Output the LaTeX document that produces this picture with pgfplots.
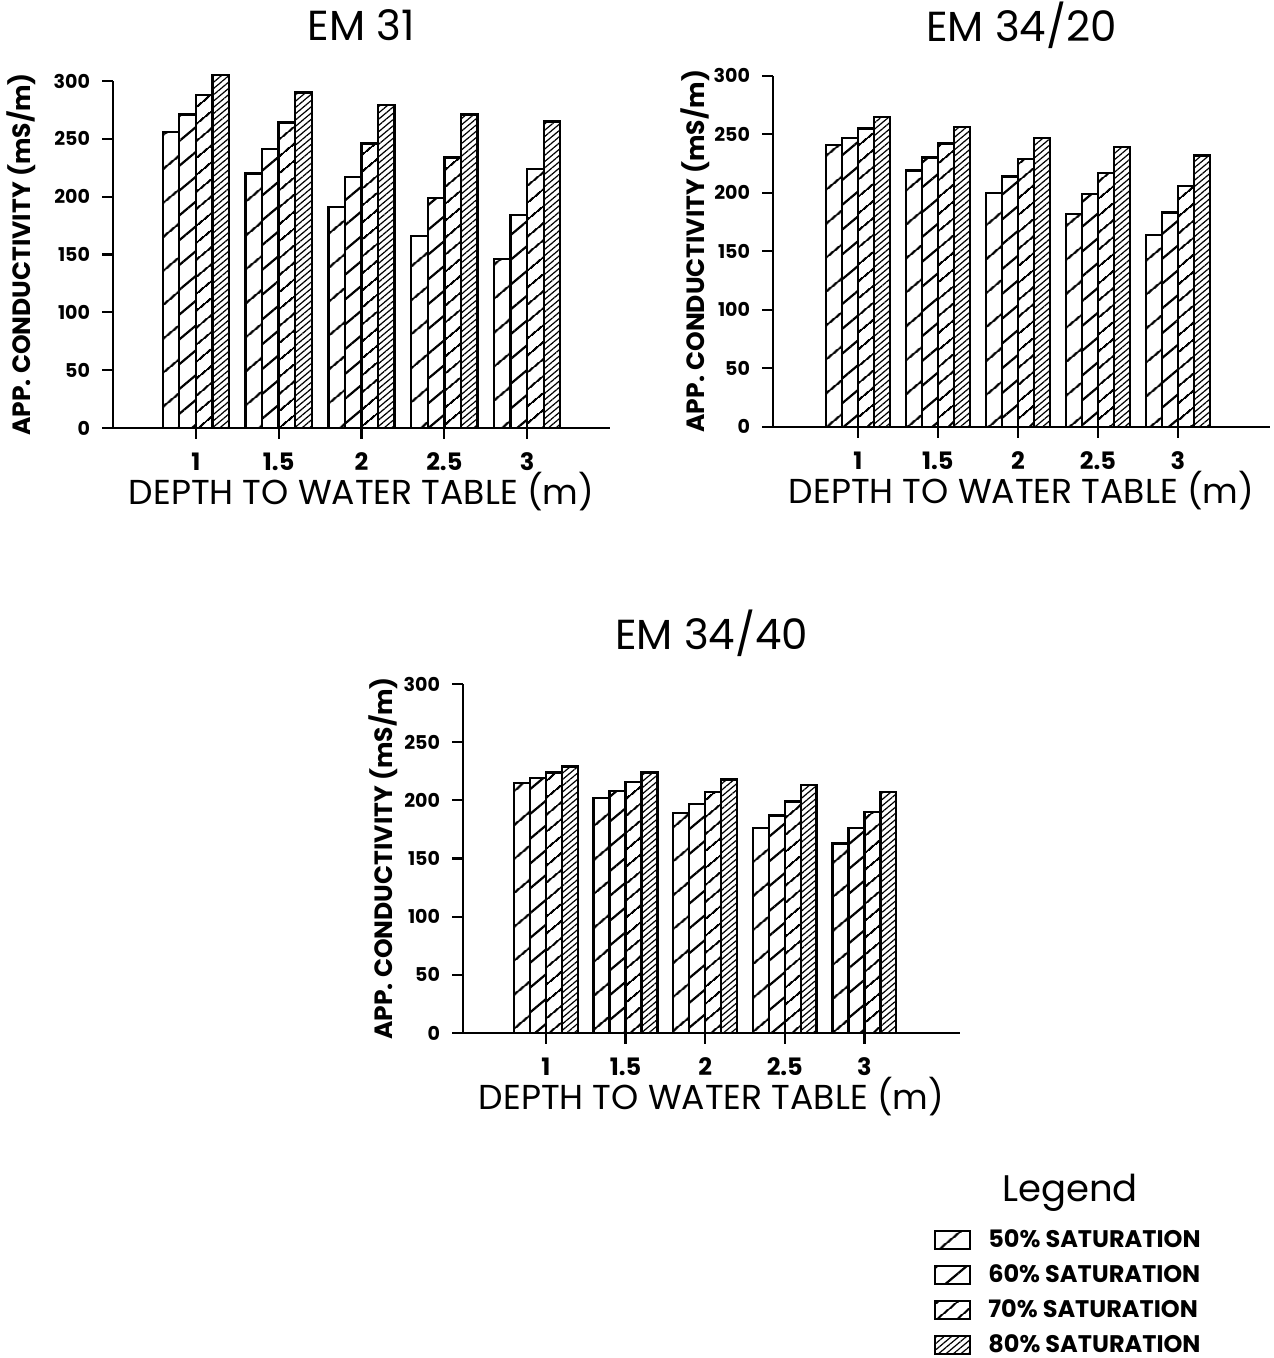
\documentclass[border=0pt]{standalone}
\usepackage{pgfplots}
\pgfplotsset{compat=1.18}
\usepackage{pgfplotstable}
\usetikzlibrary{patterns.meta}
\usepackage{fontspec}
\setmainfont{Poppins}

\pgfplotstableread{
x s50 s60 s70 s80
1 256 271 288 305
2 220 241 264 290
3 191 217 246 279
4 166 199 234 271
5 146 184 224 265
}\emA
\pgfplotstableread{
x s50 s60 s70 s80
1 241 247 255 265
2 219 230 242 256
3 200 214 229 247
4 182 199 217 239
5 164 183 206 232
}\emB
\pgfplotstableread{
x s50 s60 s70 s80
1 215 219 224 229
2 202 208 216 224
3 189 197 207 218
4 176 187 199 213
5 163 176 190 207
}\emC

\pgfplotsset{
  emaxis/.style={
    scale only axis, width=248.5pt,
    ymin=0, ymax=300, ytick={0,50,...,300},
    xtick={1,2,3,4,5}, xticklabels={1,1.5,2,2.5,3},
    axis x line*=bottom, axis y line*=left,
    axis line style={line width=1.1pt, black},
    tick align=outside, major tick length=5.5pt,
    tick style={line width=1.1pt, black},
    /pgf/number format/assume math mode=true,
    yticklabel style={font=\bfseries\fontsize{9.5}{12}\selectfont, xshift=-2.5pt},
    xticklabel style={font=\bfseries\fontsize{12}{14}\selectfont, yshift=-3.5pt},
    ylabel={APP. CONDUCTIVITY (mS/m)},
    xlabel={DEPTH TO WATER TABLE (m)},
    every axis x label/.style={at={(axis description cs:0.5,0)}, anchor=center, yshift=-32pt, font=\fontsize{17.3}{20}\selectfont},
    title style={font=\fontsize{21}{24}\selectfont, at={(0.5,1)}, anchor=center},
    ybar=0pt, bar width=0.2, clip=false,
    enlargelimits=false,
  },
  ylab/.style={every axis y label/.style={at={(axis description cs:#1,0.5)}, rotate=90, anchor=center, font=\bfseries\fontsize{12.5}{15}\selectfont}},
  sw/.style={legend image code/.code={\draw[##1,line width=1pt] (0pt,-4.5pt) rectangle (17.5pt,4.5pt); \path (24pt,0pt);}},
  p50/.style={draw=black, line width=1.2pt, sw, pattern={Lines[angle=40,distance=13pt,line width=1.1pt]}},
  p60/.style={draw=black, line width=1.2pt, sw, pattern={Lines[angle=40,distance=9.5pt,line width=1.1pt]}},
  p70/.style={draw=black, line width=1.2pt, sw, pattern={Lines[angle=40,distance=6.5pt,line width=1.1pt]}},
  p80/.style={draw=black, line width=1.2pt, sw, pattern={Lines[angle=40,distance=2.4pt,line width=0.6pt]}},
}

\begin{document}
\begin{tikzpicture}
\useasboundingbox (0,0) rectangle (636.5pt,679pt);

\begin{axis}[emaxis, at={(56.5pt,465pt)}, anchor=south west, height=173.5pt,
  xmin=0, xmax=6, title={EM 31}, title style={yshift=22pt}, ylab=-0.185]
\addplot[p50] table[x=x,y=s50]{\emA};
\addplot[p60] table[x=x,y=s60]{\emA};
\addplot[p70] table[x=x,y=s70]{\emA};
\addplot[p80] table[x=x,y=s80]{\emA};
\end{axis}

\begin{axis}[emaxis, at={(386.5pt,465.6pt)}, anchor=south west, height=175.5pt,
  xmin=-0.06, xmax=6.15, title={EM 34/20}, title style={yshift=19pt}, ylab=-0.157]
\addplot[p50] table[x=x,y=s50]{\emB};
\addplot[p60] table[x=x,y=s60]{\emB};
\addplot[p70] table[x=x,y=s70]{\emB};
\addplot[p80] table[x=x,y=s80]{\emB};
\end{axis}

\begin{axis}[emaxis, at={(231.5pt,162.5pt)}, anchor=south west, height=174.5pt,
  xmin=-0.04, xmax=6.2, title={EM 34/40}, title style={yshift=19.5pt}, ylab=-0.161,
  legend style={at={(axis description cs:0.935,-0.54)}, anchor=north west, draw=none, fill=none,
    font=\bfseries\fontsize{12}{14}\selectfont, row sep=3pt},
  legend cell align=left]
\addplot[p50] table[x=x,y=s50]{\emC};
\addlegendentry{50\% SATURATION}
\addplot[p60] table[x=x,y=s60]{\emC};
\addlegendentry{60\% SATURATION}
\addplot[p70] table[x=x,y=s70]{\emC};
\addlegendentry{70\% SATURATION}
\addplot[p80] table[x=x,y=s80]{\emC};
\addlegendentry{80\% SATURATION}
\end{axis}

\node[font=\fontsize{18.5}{22}\selectfont, anchor=center] at (535pt,82.5pt) {Legend};
\end{tikzpicture}
\end{document}
